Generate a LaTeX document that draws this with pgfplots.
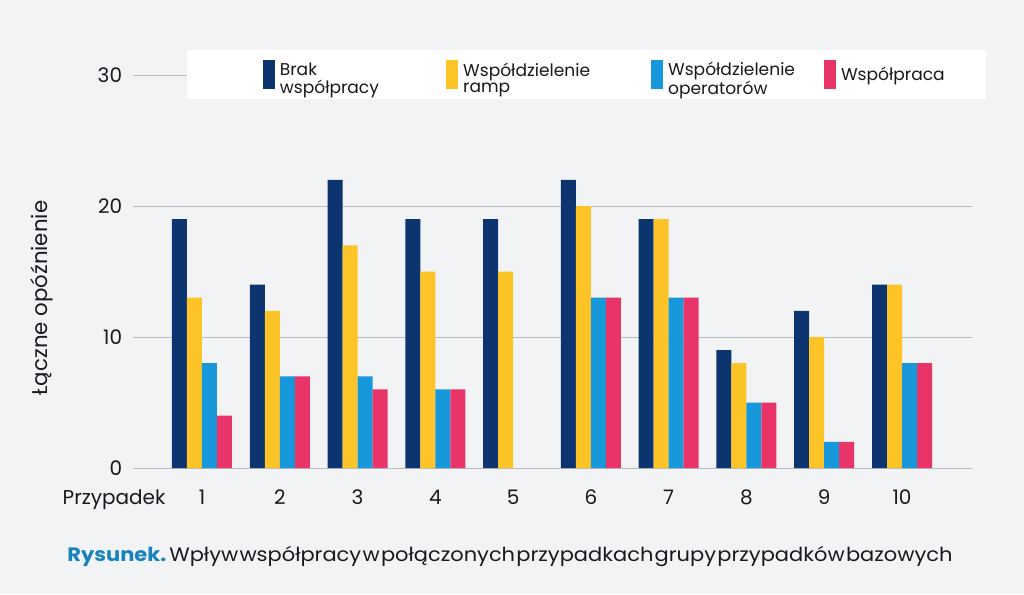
\documentclass[border=0pt]{standalone}
\usepackage{fontspec}
\setmainfont{Poppins}
\usepackage{pgfplots}
\pgfplotsset{compat=1.18}
\usepackage{graphicx}
\definecolor{bg}{RGB}{242,243,245}
\definecolor{cnavy}{RGB}{12,52,110}
\definecolor{cyellow}{RGB}{252,196,38}
\definecolor{cblue}{RGB}{22,152,218}
\definecolor{cpink}{RGB}{232,52,104}
\definecolor{cgrid}{RGB}{185,187,195}
\definecolor{ccap}{RGB}{24,130,190}
\definecolor{ctext}{RGB}{25,25,30}
\newcommand{\two}[3]{\makebox[#1][l]{\begin{tabular}{@{}l@{}}#2\\#3\end{tabular}}}
\begin{document}
\begin{tikzpicture}
\fill[bg] (0,0) rectangle (768pt,445.5pt);
\useasboundingbox (0,0) rectangle (768pt,445.5pt);
\begin{axis}[
  at={(99.75pt,94.5pt)}, anchor=south west,
  scale only axis, width=629.25pt, height=294.75pt,
  clip=false,
  xmin=0.113, xmax=10.9, ymin=0, ymax=30,
  ybar=0pt, bar width=11.25pt,
  axis line style={draw=none},
  major tick length=0pt,
  xtick={1,...,10}, ytick={0,10,20,30},
  ymajorgrids, major grid style={cgrid, line width=0.7pt},
  tick label style={font=\fontsize{15}{18}\selectfont, text=ctext},
  /pgf/number format/assume math mode=true,
  yticklabel style={anchor=east, inner sep=0pt, xshift=-8pt},
  xticklabel style={anchor=base, inner sep=0pt, yshift=-27.5pt},
  ylabel={Łączne opóźnienie},
  every axis y label/.style={at={(axis description cs:-0.1085,0.4326)}, rotate=90, anchor=center, font=\fontsize{16}{19}\selectfont, text=ctext},
  legend columns=4,
  legend cell align=left,
  legend style={at={(axis description cs:0.5405,1.0013)}, anchor=center, draw=none, fill=white,
    inner xsep=29.25pt, inner ysep=7.5pt, column sep=0pt,
    font=\fontsize{12.8}{12.3}\selectfont, text=ctext},
  legend image code/.code={\fill[#1,draw=none] (0pt,-11pt) rectangle (9pt,11pt); \path[draw=none,fill=none] (0pt,0pt) -- (11pt,0pt);},
]
\addplot[fill=cnavy, draw=none, legend image code/.code={\fill[cnavy,draw=none] (0pt,-11pt) rectangle (9pt,11pt); \path[draw=none,fill=none] (-27.75pt,0pt) -- (11pt,0pt);}] coordinates {(1,19) (2,14) (3,22) (4,19) (5,19) (6,22) (7,19) (8,9) (9,12) (10,14)};
\addlegendentry{\two{122.5pt}{Brak}{współpracy}}
\addplot[fill=cyellow, draw=none] coordinates {(1,13) (2,12) (3,17) (4,15) (5,15) (6,20) (7,19) (8,8) (9,10) (10,14)};
\addlegendentry{\two{138.7pt}{Współdzielenie}{ramp}}
\addplot[fill=cblue, draw=none] coordinates {(1,8) (2,7) (3,7) (4,6) (6,13) (7,13) (8,5) (9,2) (10,8)};
\addlegendentry{\two{114.7pt}{Współdzielenie}{operatorów}}
\addplot[fill=cpink, draw=none] coordinates {(1,4) (2,7) (3,6) (4,6) (6,13) (7,13) (8,5) (9,2) (10,8)};
\addlegendentry{Współpraca}
\node[anchor=base, inner sep=0pt, font=\fontsize{15}{18}\selectfont, text=ctext] at (axis description cs:-0.0226,0) [yshift=-27.5pt] {Przypadek};
\end{axis}
\node[font=\fontsize{14.5}{17}\selectfont, text=ctext, inner sep=0pt] at (382.5pt,28.5pt) {\resizebox{663.75pt}{\height}{\spaceskip=0.06em plus 0.02em\relax\textcolor{ccap}{\bfseries Rysunek.} Wpływ współpracy w połączonych przypadkach grupy przypadków bazowych}};
\end{tikzpicture}
\end{document}
